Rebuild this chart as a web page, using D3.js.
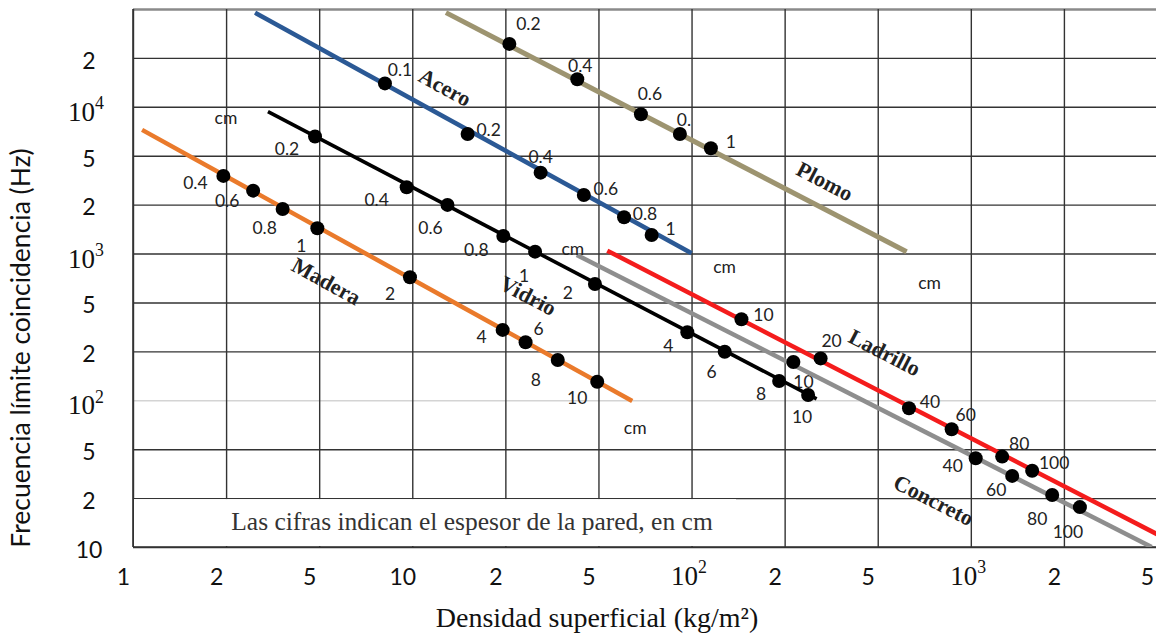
<!DOCTYPE html>
<html>
<head>
<meta charset="utf-8">
<script src="https://cdn.jsdelivr.net/npm/d3@7/dist/d3.min.js"></script>
<style>
  body { margin: 0; background: #fff; }
  svg { display: block; }
</style>
</head>
<body>
<svg id="chart" width="1156" height="635"></svg>
<script>
// ---- Axis ticks (1-2-5 sequence, each step drawn with equal spacing) ----
const xTicks = [1, 2, 5, 10, 20, 50, 100, 200, 500, 1000, 2000, 5000];
const xTickLabels = ["1", "2", "5", "10", "2", "5", "10^2", "2", "5", "10^3", "2", "5"];
const yTicks = [10, 20, 50, 100, 200, 500, 1000, 2000, 5000, 10000, 20000, 50000];
const yTickLabels = ["10", "2", "5", "10^2", "2", "5", "10^3", "2", "5", "10^4", "2", ""];

// ---- Materials: surface density (kg/m²), coincidence frequency (Hz), thickness (cm) ----
const maderaDensidad   = [1.96, 2.61, 3.49, 4.91, 9.83, 19.6, 24.4, 33.5, 49.4];
const maderaFrecuencia = [3425, 2600, 1882, 1431, 715, 299, 237, 177, 130];
const maderaEspesor    = ["0.4", "0.6", "0.8", "1", "2", "4", "6", "8", "10"];
const maderaTramo      = [[1.07, 7210], [64.3, 99]];

const vidrioDensidad   = [4.80, 9.59, 13.0, 19.7, 26.8, 48.3, 96.9, 128, 192, 252];
const vidrioFrecuencia = [6560, 2771, 1992, 1283, 1027, 650, 286, 199, 131.5, 107.8];
const vidrioEspesor    = ["0.2", "0.4", "0.6", "0.8", "1", "2", "4", "6", "8", "10"];
const vidrioTramo      = [[3.02, 9340], [274, 101.9]];

const aceroDensidad    = [8.16, 15.1, 28.3, 43.3, 60.5, 74.3];
const aceroFrecuencia  = [13940, 6810, 3642, 2398, 1673, 1301];
const aceroEspesor     = ["0.1", "0.2", "0.4", "0.6", "0.8", "1"];
const aceroTramo       = [[2.66, 46700], [100, 1004]];

const plomoDensidad    = [20.8, 40.6, 68.6, 91.7, 115.5];
const plomoFrecuencia  = [26000, 14780, 9005, 6810, 5559];
const plomoEspesor     = ["0.2", "0.4", "0.6", "0.", "1"];
const plomoTramo       = [[12.85, 46700], [620, 1027]];

const ladrilloDensidad   = [145, 285, 631, 867, 1263, 1579];
const ladrilloFrecuencia = [365, 181, 89.3, 66.3, 43.5, 33.4];
const ladrilloEspesor    = ["10", "20", "40", "60", "80", "100"];
const ladrilloTramo      = [[53.4, 1042], [5000, 12]];

const concretoDensidad   = [218, 1037, 1361, 1833, 2341];
const concretoFrecuencia = [172, 42.2, 30.3, 21.2, 17.6];
const concretoEspesor    = ["10", "40", "60", "80", "100"];
const concretoTramo      = [[40.4, 980], [4741, 10]];

const series = [
  { name: "Plomo",    densidad: plomoDensidad,    frecuencia: plomoFrecuencia,    espesor: plomoEspesor,    tramo: plomoTramo },
  { name: "Acero",    densidad: aceroDensidad,    frecuencia: aceroFrecuencia,    espesor: aceroEspesor,    tramo: aceroTramo },
  { name: "Madera",   densidad: maderaDensidad,   frecuencia: maderaFrecuencia,   espesor: maderaEspesor,   tramo: maderaTramo },
  { name: "Vidrio",   densidad: vidrioDensidad,   frecuencia: vidrioFrecuencia,   espesor: vidrioEspesor,   tramo: vidrioTramo },
  { name: "Concreto", densidad: concretoDensidad, frecuencia: concretoFrecuencia, espesor: concretoEspesor, tramo: concretoTramo },
  { name: "Ladrillo", densidad: ladrilloDensidad, frecuencia: ladrilloFrecuencia, espesor: ladrilloEspesor, tramo: ladrilloTramo }
];

// ---- Styling and annotation placement (pixel offsets from the marks) ----
const estilo = {
  Plomo:    { color: "#9d9470", width: 5,   numOff: [[19,-20],[3,-14],[9,-21],[4,-14],[20,-7]],
              nameAt: 4, nameOff: [114, 33], cm: { at: 1, off: [23, 31] } },
  Acero:    { color: "#2b5995", width: 4.5, numOff: [[15,-14],[21,-4],[0,-16],[22,-6],[21,-4],[19,-6]],
              nameAt: 0, nameOff: [60, 4], cm: { at: 1, off: [33, 13] } },
  Madera:   { color: "#ea7a2b", width: 4.5, numOff: [[-28,7],[-26,10],[-18,19],[-16,17],[-20,16],[-21,7],[13,-14],[-22,20],[-20,16]],
              nameAt: 3, nameOff: [9, 53], cm: { at: 1, off: [3, 27] } },
  Vidrio:   { color: "#000000", width: 3.6, numOff: [[-28,12],[-30,12],[-17,23],[-27,14],[-11,24],[-27,9],[-19,13],[-13,20],[-18,13],[-6,22]],
              nameAt: 4, nameOff: [-7, 44], cm: { at: 0, off: [-42, 6] } },
  Concreto: { color: "#8e8e8e", width: 4.5, numOff: [[10,19],[-23,7],[-16,14],[-15,24],[-12,24]],
              nameAt: 1, nameOff: [-42, 42], cm: { at: 0, off: [-4, -6] } },
  Ladrillo: { color: "#f41c1c", width: 4.5, numOff: [[22,-5],[11,-18],[21,-7],[14,-15],[17,-13],[22,-8]],
              nameAt: 1, nameOff: [64, -6], cm: null }
};

const plot = { left: 133, right: 1157, top: 9, bottom: 547 };
const sans = "Lato, 'Open Sans', sans-serif";
const serif = "'Liberation Serif', 'DejaVu Serif', serif";

// Polylinear scales on log10 values: every 1-2-5 step gets the same width.
const xs = d3.scaleLinear()
  .domain(xTicks.map(Math.log10))
  .range(xTicks.map((d, i) => plot.left + i * (plot.right - plot.left) / (xTicks.length - 1)));
const ys = d3.scaleLinear()
  .domain(yTicks.map(Math.log10))
  .range(yTicks.map((d, i) => plot.bottom - i * (plot.bottom - plot.top) / (yTicks.length - 1)));
const x = v => xs(Math.log10(v));
const y = v => ys(Math.log10(v));

const svg = d3.select("#chart");
svg.append("defs").append("clipPath").attr("id", "area")
  .append("rect").attr("x", plot.left).attr("y", plot.top)
  .attr("width", plot.right - plot.left).attr("height", plot.bottom - plot.top);

// ---- Grid ----
const gridY = svg.append("g")
  .attr("transform", `translate(${plot.left},0)`)
  .call(d3.axisLeft(ys).tickValues(yTicks.map(Math.log10)).tickSize(-(plot.right - plot.left)).tickFormat(""));
gridY.select(".domain").remove();
gridY.selectAll(".tick line")
  .attr("stroke", (d, i) => yTicks[i] === 100 ? "#d4d4d4" : (yTicks[i] === 50000 ? "#8a8a8a" : "#333"))
  .attr("stroke-width", (d, i) => yTicks[i] === 50000 ? 2.5 : 1.4);

const gridX = svg.append("g")
  .attr("transform", `translate(0,${plot.bottom})`)
  .call(d3.axisBottom(xs).tickValues(xTicks.map(Math.log10)).tickSize(-(plot.bottom - plot.top)).tickFormat(""));
gridX.select(".domain").remove();
gridX.selectAll(".tick line").attr("stroke", "#333").attr("stroke-width", 1.4);

// Note band along the bottom of the grid
svg.append("rect")
  .attr("x", plot.left + 1).attr("y", y(20) + 1)
  .attr("width", 735 - plot.left).attr("height", plot.bottom - y(20) - 2)
  .attr("fill", "#fff");
svg.append("text")
  .attr("x", 472).attr("y", 530)
  .attr("text-anchor", "middle")
  .attr("font-family", serif).attr("font-size", 25.5).attr("fill", "#333")
  .text("Las cifras indican el espesor de la pared, en cm");

// Frame
svg.append("line").attr("x1", plot.left).attr("x2", plot.left).attr("y1", plot.top).attr("y2", plot.bottom)
  .attr("stroke", "#333").attr("stroke-width", 1.6);
svg.append("line").attr("x1", plot.left).attr("x2", plot.right).attr("y1", plot.bottom).attr("y2", plot.bottom)
  .attr("stroke", "#333").attr("stroke-width", 1.6);

// ---- Tick labels ----
function writeLabel(sel, label) {
  sel.text(null);
  if (label.includes("^")) {
    const [base, exp] = label.split("^");
    sel.attr("font-family", serif).attr("font-size", 27);
    sel.append("tspan").text(base);
    sel.append("tspan").attr("font-size", "0.66em").attr("dy", "-0.66em").text(exp);
  } else {
    sel.attr("font-family", sans).attr("font-size", 23);
    sel.text(label);
  }
}

const axX = svg.append("g")
  .attr("transform", `translate(0,${plot.bottom})`)
  .call(d3.axisBottom(xs).tickValues(xTicks.map(Math.log10)).tickSize(0).tickFormat((d, i) => xTickLabels[i]));
axX.select(".domain").remove();
axX.selectAll(".tick text")
  .attr("y", 38).attr("dy", null)
  .attr("fill", "#111")
  .attr("dx", (d, i) => xTickLabels[i].includes("^") ? -3 : -10)
  .each(function (d, i) { writeLabel(d3.select(this), xTickLabels[i]); });

const axY = svg.append("g")
  .attr("transform", `translate(${plot.left},0)`)
  .call(d3.axisLeft(ys).tickValues(yTicks.map(Math.log10)).tickSize(0).tickFormat((d, i) => yTickLabels[i]));
axY.select(".domain").remove();
axY.selectAll(".tick text")
  .attr("x", (d, i) => yTickLabels[i].includes("^") ? -47 : -44)
  .attr("dy", (d, i) => yTickLabels[i].includes("^") ? "0.5em" : "0.45em")
  .attr("text-anchor", "middle")
  .attr("fill", "#111")
  .each(function (d, i) { writeLabel(d3.select(this), yTickLabels[i]); });

// Axis titles
svg.append("text")
  .attr("transform", "translate(30,348) rotate(-90)")
  .attr("text-anchor", "middle")
  .attr("font-family", sans).attr("font-size", 26.5).attr("fill", "#111")
  .text("Frecuencia límite coincidencia (Hz)");
svg.append("text")
  .attr("x", 597).attr("y", 627)
  .attr("text-anchor", "middle")
  .attr("font-family", serif).attr("font-size", 28).attr("fill", "#111")
  .text("Densidad superficial (kg/m²)");

// ---- Thickness labels (drawn under the lines) ----
const numLayer = svg.append("g");
const lineLayer = svg.append("g").attr("clip-path", "url(#area)");
const dotLayer = svg.append("g");
const nameLayer = svg.append("g");

const line = d3.line().x(d => x(d[0])).y(d => y(d[1]));

series.forEach(s => {
  const st = estilo[s.name];
  const pts = s.densidad.map((d, i) => ({ d, f: s.frecuencia[i], e: s.espesor[i], off: st.numOff[i] }));

  numLayer.selectAll(null).data(pts).join("text")
    .attr("x", p => x(p.d) + p.off[0])
    .attr("y", p => y(p.f) + p.off[1])
    .attr("text-anchor", "middle").attr("dominant-baseline", "central")
    .attr("font-family", sans).attr("font-size", 17.5).attr("fill", "#222")
    .text(p => p.e);

  lineLayer.append("path")
    .datum(s.tramo)
    .attr("d", line)
    .attr("fill", "none")
    .attr("stroke", st.color)
    .attr("stroke-width", st.width)
    .attr("stroke-linecap", "butt");

  dotLayer.selectAll(null).data(pts).join("circle")
    .attr("cx", p => x(p.d))
    .attr("cy", p => y(p.f))
    .attr("r", 7)
    .attr("fill", "#000");

  // Material name, aligned with its line
  const [a, b] = s.tramo;
  const ang = Math.atan2(y(b[1]) - y(a[1]), x(b[0]) - x(a[0])) * 180 / Math.PI;
  const anchor = pts[st.nameAt];
  nameLayer.append("text")
    .attr("transform", `translate(${x(anchor.d) + st.nameOff[0]},${y(anchor.f) + st.nameOff[1]}) rotate(${ang})`)
    .attr("text-anchor", "middle").attr("dominant-baseline", "central")
    .attr("font-family", serif).attr("font-weight", "bold").attr("font-size", 22).attr("fill", "#222")
    .text(s.name);

  if (st.cm) {
    const end = s.tramo[st.cm.at];
    nameLayer.append("text")
      .attr("x", x(end[0]) + st.cm.off[0])
      .attr("y", y(end[1]) + st.cm.off[1])
      .attr("text-anchor", "middle").attr("dominant-baseline", "central")
      .attr("font-family", sans).attr("font-size", 17.5).attr("fill", "#222")
      .text("cm");
  }
});
</script>
</body>
</html>
